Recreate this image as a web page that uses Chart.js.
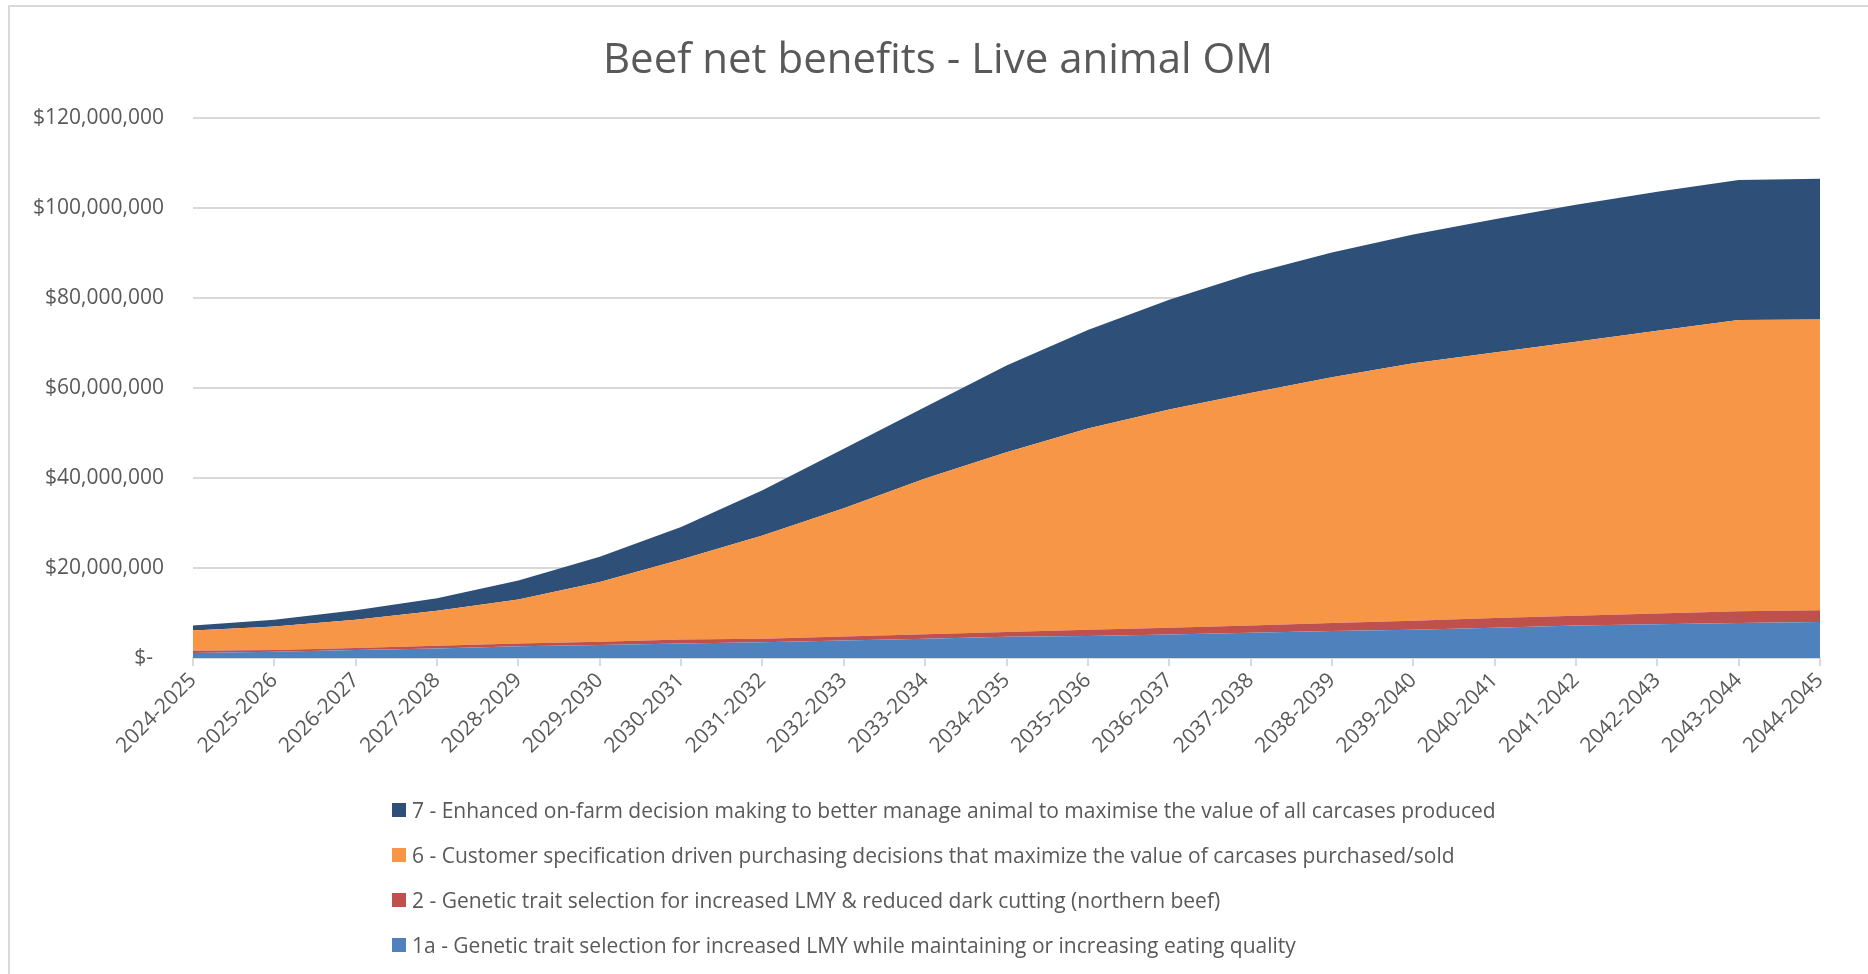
<!DOCTYPE html>
<html>
<head>
<meta charset="utf-8">
<title>Beef net benefits - Live animal OM</title>
<script src="https://cdn.jsdelivr.net/npm/chart.js@4.4.1/dist/chart.umd.min.js"></script>
<style>
  html, body { margin: 0; padding: 0; background: #ffffff; }
  body { width: 1868px; height: 974px; position: relative; overflow: hidden; font-family: "Open Sans", sans-serif; }
  #frame { position: absolute; left: 8px; top: 5px; width: 1900px; height: 1000px; border: 2px solid #d9d9d9; box-sizing: border-box; }
  #wrap { position: absolute; left: 0; top: 0; width: 1868px; height: 974px; }
  #title { position: absolute; left: 438px; width: 1000px; top: 57px; transform: translateY(-50%); text-align: center; white-space: nowrap; color: #595959; font-size: 42px; line-height: 1.2; }
  #legend { position: absolute; left: 392px; top: 0; color: #595959; font-size: 21px; }
  .item { position: absolute; left: 0; white-space: nowrap; display: flex; align-items: center; height: 30px; transform: translateY(-50%); }
  .box { width: 14px; height: 14px; margin-right: 6px; flex: none; }
</style>
</head>
<body>
<div id="frame"></div>
<div id="wrap"><canvas id="chart" width="1868" height="974"></canvas></div>
<div id="title"></div>
<div id="legend"></div>
<script>
// Financial years on the category axis
const years = [
  "2024-2025", "2025-2026", "2026-2027", "2027-2028", "2028-2029", "2029-2030", "2030-2031",
  "2031-2032", "2032-2033", "2033-2034", "2034-2035", "2035-2036", "2036-2037", "2037-2038",
  "2038-2039", "2039-2040", "2040-2041", "2041-2042", "2042-2043", "2043-2044", "2044-2045"
];

// Net benefit per initiative, $ millions (stacked bottom to top)
const geneticLmyEq = [1.1, 1.4, 1.8, 2.1, 2.6, 2.9, 3.2, 3.5, 3.9, 4.3, 4.7, 4.9, 5.2, 5.6, 6.0, 6.3, 6.7, 7.2, 7.5, 7.8, 8.0];
const geneticLmyDark = [0.5, 0.4, 0.4, 0.6, 0.6, 0.7, 0.9, 0.8, 0.9, 1.0, 1.1, 1.4, 1.5, 1.6, 1.8, 2.0, 2.2, 2.2, 2.4, 2.6, 2.6];
const customerSpec = [4.5, 5.2, 6.3, 7.8, 9.8, 13.3, 17.8, 22.9, 28.5, 34.6, 39.9, 44.7, 48.5, 51.7, 54.6, 57.2, 59.0, 60.9, 62.8, 64.7, 64.6];
const onFarmDecisions = [1.1, 1.5, 2.1, 2.8, 4.2, 5.6, 7.2, 10.1, 13.2, 15.9, 19.3, 21.9, 24.4, 26.5, 27.7, 28.6, 29.6, 30.4, 30.9, 31.1, 31.3];

// Value axis ticks, dollars
const yTicks = [0, 20000000, 40000000, 60000000, 80000000, 100000000, 120000000];

const chartTitle = 'Beef net benefits - Live animal OM';
const seriesNames = [
  "1a - Genetic trait selection for increased LMY while maintaining or increasing eating quality",
  "2 - Genetic trait selection for increased LMY & reduced dark cutting (northern beef)",
  "6 - Customer specification driven purchasing decisions that maximize the value of carcases purchased/sold",
  "7 - Enhanced on-farm decision making to better manage animal to maximise the value of all carcases produced"
];
const seriesColors = ["#4f81bd", "#c0504d", "#f79646", "#2e4f77"];
const seriesValues = [geneticLmyEq, geneticLmyDark, customerSpec, onFarmDecisions];

const toDollars = arr => arr.map(v => Math.round(v * 1e6));

const datasets = seriesValues.map((vals, i) => ({
  label: seriesNames[i],
  data: toDollars(vals),
  backgroundColor: seriesColors[i],
  borderColor: seriesColors[i],
  borderWidth: 0,
  pointRadius: 0,
  pointHoverRadius: 0,
  tension: 0,
  fill: i === 0 ? 'origin' : '-1'
}));

const grey = '#595959';
const gridGrey = '#d9d9d9';
const tickFont = { family: 'Open Sans', size: 21 };

function fmtDollars(v) {
  if (v === 0) return '$-  ';
  return '$' + Number(v).toLocaleString('en-US');
}

new Chart(document.getElementById('chart'), {
  type: 'line',
  data: { labels: years, datasets: datasets },
  options: {
    responsive: false,
    animation: false,
    layout: { padding: { left: 0, right: 48, top: 118, bottom: 0 } },
    plugins: {
      legend: { display: false },
      tooltip: { enabled: false },
      title: { display: false }
    },
    scales: {
      x: {
        offset: false,
        grid: { display: true, drawOnChartArea: false, drawTicks: true, tickLength: 8, color: gridGrey, lineWidth: 2 },
        border: { display: true, color: gridGrey, width: 2 },
        ticks: { color: grey, font: tickFont, minRotation: 45, maxRotation: 45, autoSkip: false, padding: 2 },
        afterFit: s => { s.height = 974 - 658; }
      },
      y: {
        stacked: true,
        min: 0,
        max: 120000000,
        afterBuildTicks: s => { s.ticks = yTicks.map(v => ({ value: v })); },
        grid: { color: gridGrey, lineWidth: 2, drawTicks: false },
        border: { display: false },
        ticks: { color: grey, font: tickFont, padding: 29, callback: fmtDollars },
        afterFit: s => { s.width = 193; }
      }
    }
  }
});

document.getElementById('title').textContent = chartTitle;

// Legend, listed top series first
const legend = document.getElementById('legend');
const rowCentres = [810, 855, 900, 945];
for (let k = 0; k < 4; k++) {
  const i = 3 - k;
  const row = document.createElement('div');
  row.className = 'item';
  row.style.top = rowCentres[k] + 'px';
  const box = document.createElement('span');
  box.className = 'box';
  box.style.background = seriesColors[i];
  const txt = document.createElement('span');
  txt.textContent = seriesNames[i];
  row.appendChild(box);
  row.appendChild(txt);
  legend.appendChild(row);
}
</script>
</body>
</html>
